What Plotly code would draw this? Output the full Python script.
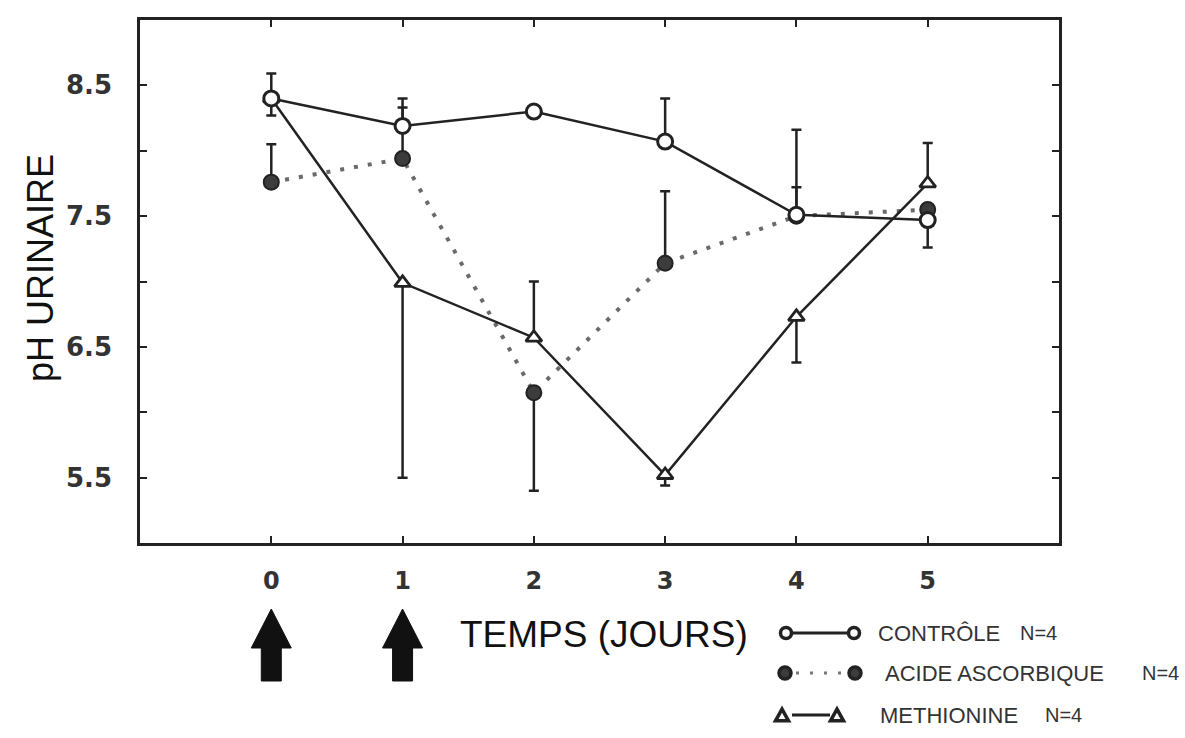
import plotly.graph_objects as go

# Urinary pH over time for the three groups (mean with one-sided error bars)
days = [0, 1, 2, 3, 4, 5]

ctrl_ph = [8.40, 8.19, 8.30, 8.07, 7.51, 7.47]
ctrl_err_up = [0.19, 0.21, 0.0, 0.33, 0.65, 0.0]
ctrl_err_dn = [0.13, 0.0, 0.0, 0.0, 0.0, 0.21]

acid_ph = [7.76, 7.94, 6.15, 7.14, 7.50, 7.55]
acid_err_up = [0.29, 0.39, 0.0, 0.55, 0.22, 0.0]
acid_err_dn = [0.0, 0.0, 0.75, 0.0, 0.0, 0.0]

meth_ph = [8.40, 6.99, 6.57, 5.52, 6.73, 7.75]
meth_err_up = [0.0, 0.0, 0.43, 0.0, 0.0, 0.31]
meth_err_dn = [0.0, 1.49, 0.0, 0.08, 0.35, 0.0]

dose_days = [0, 1]

y_tickvals = [5.5, 6.0, 6.5, 7.0, 7.5, 8.0, 8.5]
y_ticktext = ["5.5", "", "6.5", "", "7.5", "", "8.5"]
x_ticktext = ["0", "1", "2", "3", "4", "5"]

legend_labels = ["CONTRÔLE", "ACIDE ASCORBIQUE", "METHIONINE"]
legend_counts = ["N=4", "N=4", "N=4"]

# figure geometry
W, H = 1185, 738
ML, MR, MT, MB = 140, 126, 20, 195
PW, PH = W - ML - MR, H - MT - MB
X_RANGE = [-1, 6]
Y_RANGE = [5, 9]

INK = "#222222"
TXT = "#333333"


def pxp(x):
    return (x - ML) / PW


def pyp(y):
    return (H - MB - y) / PH


def err(up, dn):
    return dict(type="data", symmetric=False, array=up, arrayminus=dn,
                color=INK, thickness=2.5, width=5)


fig = go.Figure()

fig.add_trace(go.Scatter(
    x=days, y=acid_ph, mode="lines+markers", name=legend_labels[1],
    line=dict(color="#6a6a6a", width=4, dash="4px,10px"),
    marker=dict(symbol="circle", size=15, color="#3c3c3c",
                line=dict(color=INK, width=2)),
    error_y=err(acid_err_up, acid_err_dn),
))
fig.add_trace(go.Scatter(
    x=days, y=meth_ph, mode="lines+markers", name=legend_labels[2],
    line=dict(color=INK, width=2.5),
    marker=dict(symbol="triangle-up", size=14, color="white",
                line=dict(color=INK, width=2.8)),
    error_y=err(meth_err_up, meth_err_dn),
))
fig.add_trace(go.Scatter(
    x=days, y=ctrl_ph, mode="lines+markers", name=legend_labels[0],
    line=dict(color=INK, width=2.5),
    marker=dict(symbol="circle", size=15, color="white",
                line=dict(color=INK, width=3)),
    error_y=err(ctrl_err_up, ctrl_err_dn),
))

shapes = []

# dosing arrows under days 0 and 1
ppu = PW / (X_RANGE[1] - X_RANGE[0])
head_half = 20 / ppu
shaft_half = 10 / ppu
y_tip, y_base, y_bot = pyp(609), pyp(648), pyp(681)
for d in dose_days:
    path = (f"M {d - shaft_half},{y_bot} L {d - shaft_half},{y_base} "
            f"L {d - head_half},{y_base} L {d},{y_tip} L {d + head_half},{y_base} "
            f"L {d + shaft_half},{y_base} L {d + shaft_half},{y_bot} Z")
    shapes.append(dict(type="path", xref="x", yref="paper", path=path,
                       fillcolor="#111111", line=dict(color="#111111", width=1)))


def circle(cx, cy, r, fill, lw=3.5):
    return dict(type="circle", xref="paper", yref="paper",
                x0=pxp(cx - r), x1=pxp(cx + r), y0=pyp(cy + r), y1=pyp(cy - r),
                fillcolor=fill, line=dict(color=INK, width=lw))


def triangle(cx, cy, s, lw=3.5):
    h = s * 0.9
    path = (f"M {pxp(cx - s / 2)},{pyp(cy + h / 2)} L {pxp(cx + s / 2)},{pyp(cy + h / 2)} "
            f"L {pxp(cx)},{pyp(cy - h / 2)} Z")
    return dict(type="path", xref="paper", yref="paper", path=path,
                fillcolor="white", line=dict(color=INK, width=lw))


def hline(x0, x1, y, dash="solid", color=INK, w=2.5):
    return dict(type="line", xref="paper", yref="paper",
                x0=pxp(x0), x1=pxp(x1), y0=pyp(y), y1=pyp(y),
                line=dict(color=color, width=w, dash=dash))


row_y = [633, 673, 715]
# legend row: control
shapes.append(hline(792, 848, row_y[0], w=3))
shapes.append(circle(786, row_y[0], 5.5, "white"))
shapes.append(circle(854, row_y[0], 5.5, "white"))
# legend row: ascorbic acid
shapes.append(hline(796, 845, row_y[1], dash="3px,11px", color="#777777", w=3))
shapes.append(circle(785, row_y[1], 6, "#3c3c3c"))
shapes.append(circle(855, row_y[1], 6, "#3c3c3c"))
# legend row: methionine
shapes.append(hline(792, 830, row_y[2], w=3))
shapes.append(triangle(782, row_y[2], 13))
shapes.append(triangle(837, row_y[2], 13))

annotations = []
label_x = [876, 883, 878]
count_x = [1018, 1140, 1043]
for i in range(3):
    annotations.append(dict(x=pxp(label_x[i]), y=pyp(row_y[i]), xref="paper", yref="paper",
                            text=legend_labels[i], showarrow=False, xanchor="left",
                            yanchor="middle",
                            font=dict(family="Liberation Sans, Arial", size=22, color=TXT)))
    annotations.append(dict(x=pxp(count_x[i]), y=pyp(row_y[i]), xref="paper", yref="paper",
                            text=legend_counts[i], showarrow=False, xanchor="left",
                            yanchor="middle",
                            font=dict(family="Liberation Sans, Arial", size=20, color=TXT)))

# axis titles
annotations.append(dict(x=pxp(604), y=pyp(634), xref="paper", yref="paper",
                        text="TEMPS (JOURS)", showarrow=False, xanchor="center",
                        yanchor="middle",
                        font=dict(family="Liberation Sans, Arial", size=37, color="#111111")))
annotations.append(dict(x=pxp(40), y=pyp(268), xref="paper", yref="paper",
                        text="pH URINAIRE", showarrow=False, textangle=-90,
                        xanchor="center", yanchor="middle",
                        font=dict(family="Liberation Sans, Arial", size=36, color="#111111")))

fig.update_layout(
    width=W, height=H,
    margin=dict(l=ML, r=MR, t=MT, b=MB, pad=0),
    paper_bgcolor="white", plot_bgcolor="white",
    showlegend=False,
    shapes=shapes,
    annotations=annotations,
    xaxis=dict(range=X_RANGE, tickvals=days, ticktext=x_ticktext,
               ticks="inside", ticklen=7, tickwidth=2, tickcolor=INK,
               showline=True, linecolor=INK, linewidth=2.5, mirror="ticks",
               showgrid=False, zeroline=False, ticklabelstandoff=14,
               tickfont=dict(family="DejaVu Sans, Arial", size=24, color=TXT,
                             weight="bold")),
    yaxis=dict(range=Y_RANGE, tickvals=y_tickvals, ticktext=y_ticktext,
               ticks="inside", ticklen=7, tickwidth=2, tickcolor=INK,
               showline=True, linecolor=INK, linewidth=2.5, mirror="ticks",
               showgrid=False, zeroline=False, ticklabelstandoff=20,
               tickfont=dict(family="DejaVu Sans, Arial", size=26, color=TXT,
                             weight="bold")),
)

fig.write_html("out.html")
